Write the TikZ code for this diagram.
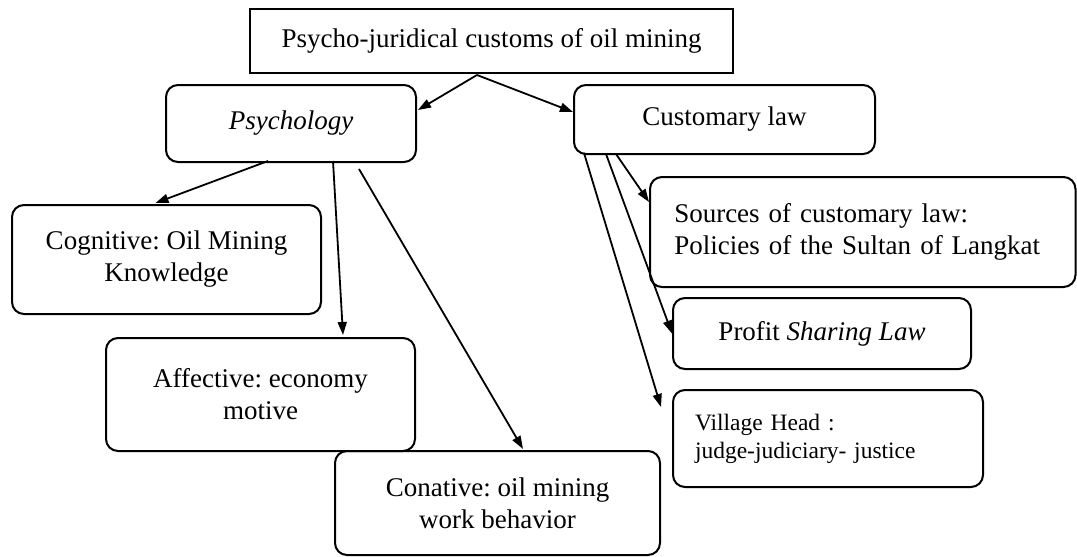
\documentclass[tikz,border=0pt]{standalone}
\usepackage{fontspec}
\setmainfont{Liberation Serif}
\frenchspacing
\usetikzlibrary{arrows.meta,calc}
\begin{document}
\begin{tikzpicture}[x=1pt,y=-1pt,
  box/.style={draw, line width=2pt, rounded corners=12pt, align=center, inner sep=0pt,
    font=\fontsize{27}{32}\selectfont},
  leftbox/.style={box, align=left},
  conn/.style={line width=1.8pt, -{Triangle[length=13pt,width=9pt]}}]
\useasboundingbox (0,0) rectangle (1077,557);

\node[box, rounded corners=0pt, minimum width=483pt, minimum height=64pt] (root) at (491.5,41)
  {Psycho-juridical customs of oil mining};
\node[box, minimum width=250pt, minimum height=77pt] (psy) at (291,123.5) {\itshape Psychology};
\node[box, minimum width=301pt, minimum height=69pt] (cust) at (724.5,119.5) {Customary law};
\node[box, minimum width=309pt, minimum height=109pt] (cog) at (166.5,259.5)
  {Cognitive: Oil Mining\\Knowledge};
\node[box, minimum width=309pt, minimum height=113pt] (aff) at (260.5,394.5)
  {Affective: economy\\motive};
\node[box, minimum width=325pt, minimum height=104pt] (con) at (497.5,503)
  {Conative: oil mining\\work behavior};
\node[leftbox, minimum width=425.5pt, minimum height=110pt, inner xsep=24pt, text width=377pt] (src) at (862.75,232)
  {Sources of customary law:\\Policies of the Sultan of Langkat};
\node[box, minimum width=298pt, minimum height=71pt] (profit) at (822,333.5)
  {Profit \textit{Sharing Law}};
\node[leftbox, minimum width=310pt, minimum height=97pt, inner xsep=22pt, text width=266pt,
  font=\fontsize{23.5}{28}\selectfont] (village) at (828,438.5)
  {Village Head :\\judge-judiciary- justice};

% connector end points
\coordinate (apex) at ($(root.south)+(-14.5,1)$);
\coordinate (psyR) at ($(psy.north east)+(1,26)$);
\coordinate (custL) at ($(cust.north west)+(0,28)$);
\coordinate (psyA) at ($(psy.south)+(-23,-2)$);
\coordinate (psyB) at ($(psy.south)+(42,-2)$);
\coordinate (psyC) at ($(psy.south)+(68,6)$);
\coordinate (cogT) at ($(cog.north)+(-11,-1)$);
\coordinate (affT) at ($(aff.north)+(82.5,-2)$);
\coordinate (conT) at ($(con.north)+(25.5,-1)$);
\coordinate (custA) at ($(cust.south west)+(11,-2)$);
\coordinate (custB) at ($(cust.south west)+(33,-1)$);
\coordinate (custC) at ($(cust.south west)+(43,-1)$);
\coordinate (vilT) at ($(village.north west)+(-11,18)$);
\coordinate (srcT) at ($(src.north west)+(0,26)$);

\draw[conn] (apex) -- (psyR);
\draw[conn] (apex) -- (custL);
\draw[conn] (psyA) -- (cogT);
\draw[conn] (psyB) -- (affT);
\draw[conn] (psyC) -- (conT);
\draw[conn] (custA) -- (vilT);
\draw[conn] (custB) -- (profit.west);
\draw[conn] (custC) -- (srcT);
\end{tikzpicture}
\end{document}
